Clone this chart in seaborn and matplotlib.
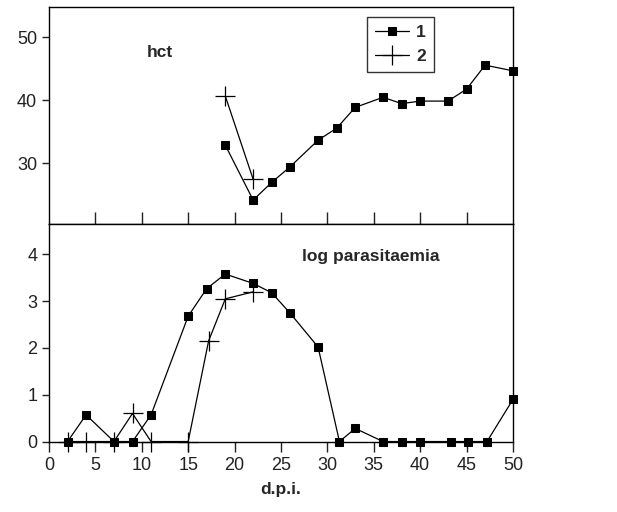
import matplotlib
matplotlib.use("Agg")
import matplotlib.pyplot as plt
import seaborn as sns
import pandas as pd

# hct, group 1 (squares) and group 2 (plus)
hct1_day = [19, 22, 24, 26, 29, 31, 33, 36, 38, 40, 43, 45, 47, 50]
hct1_val = [32.9, 24.2, 27.0, 29.5, 33.7, 35.6, 38.9, 40.5, 39.5, 39.9, 39.9, 41.8, 45.6, 44.7]
hct2_day = [19, 22]
hct2_val = [40.7, 27.5]

# log parasitaemia
par1_day = [2, 4, 7, 9, 11, 15, 17, 19, 22, 24, 26, 29, 31.3, 33, 36, 38, 40, 43.3, 45.2, 47.2, 50]
par1_val = [0, 0.57, 0, 0, 0.57, 2.68, 3.27, 3.58, 3.38, 3.18, 2.74, 2.02, 0, 0.28, 0, 0, 0, 0, 0, 0, 0.9]
par2_day = [2, 4, 7, 9, 11, 15, 17.2, 19, 22]
par2_val = [0, 0, 0, 0.6, 0, 0, 2.15, 3.05, 3.2]

sns.set_style("ticks")
plt.rcParams['font.family'] = ['Liberation Sans', 'DejaVu Sans']

fig = plt.figure(figsize=(6.17, 5.12), dpi=100)
ax1 = fig.add_axes([0.0794, 0.5625, 0.752, 0.4235])
ax2 = fig.add_axes([0.0794, 0.1367, 0.752, 0.4258])

sq = dict(marker='s', markersize=5.5, color='black', linewidth=0.9,
          markeredgecolor='black', clip_on=False)
pl = dict(marker='+', markersize=15, color='black', linewidth=0.9,
          markeredgecolor='black', markeredgewidth=0.9, clip_on=False)

sns.lineplot(x=hct1_day, y=hct1_val, ax=ax1, label='1', **sq)
sns.lineplot(x=hct2_day, y=hct2_val, ax=ax1, label='2', **pl)
sns.lineplot(x=par1_day, y=par1_val, ax=ax2, **sq)
sns.lineplot(x=par2_day, y=par2_val, ax=ax2, **pl)

for ax in (ax1, ax2):
    ax.set_xlim(0, 50)
    for s in ax.spines.values():
        s.set_visible(True)
        s.set_color('black')
        s.set_linewidth(1.0)
    ax.tick_params(labelsize=13, colors='#222222', width=1.0)

ax1.set_ylim(20.4, 54.8)
ax1.set_yticks([30, 40, 50])
ax1.set_xticks([5, 10, 15, 20, 25, 30, 35, 40, 45])
ax1.tick_params(axis='x', direction='in', length=9, labelbottom=False)
ax1.tick_params(axis='y', direction='out', length=5)
ax1.text(12, 47.6, 'hct', fontsize=12.5, fontweight='bold', ha='center', va='center')

leg = ax1.legend(loc='upper left', bbox_to_anchor=(0.685, 0.955), frameon=True,
                 fancybox=False, edgecolor='black', handlelength=2.0,
                 borderpad=0.45, labelspacing=0.5, handletextpad=0.4,
                 borderaxespad=0.0, prop={'weight': 'bold', 'size': 12.5})
leg.get_frame().set_linewidth(1.0)

ax2.set_ylim(-0.01, 4.65)
ax2.set_yticks([0, 1, 2, 3, 4])
ax2.set_xticks([0, 5, 10, 15, 20, 25, 30, 35, 40, 45, 50])
ax2.tick_params(axis='x', direction='out', length=7)
ax2.tick_params(axis='y', direction='out', length=5)
ax2.text(27.3, 3.96, 'log parasitaemia', fontsize=12.5, fontweight='bold',
         ha='left', va='center')
ax2.set_xlabel('d.p.i.', fontsize=12.5, fontweight='bold', labelpad=6)
ax2.set_ylabel('')
ax1.set_ylabel('')

fig.savefig('out.png', dpi=100)
